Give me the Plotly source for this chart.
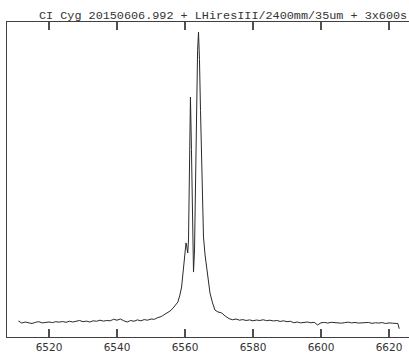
import plotly.graph_objects as go

# Left continuum (wavelength in Angstrom, relative flux)
wl_left = [6511, 6512, 6513, 6514, 6515, 6516, 6517, 6518, 6519, 6520,
           6521, 6522, 6523, 6524, 6525, 6526, 6527, 6528, 6529, 6530,
           6531, 6532, 6533, 6534, 6535, 6536, 6537, 6538, 6539, 6540,
           6541, 6542, 6543, 6544, 6545, 6546, 6547, 6548, 6549, 6550,
           6551, 6552]
fx_left = [1.07, 0.93, 1.0, 0.95, 0.9, 0.98, 1.02, 0.94, 0.97, 1.0,
           0.96, 1.02, 0.99, 1.03, 0.98, 1.05, 1.0, 1.04, 1.1, 1.02,
           1.06, 1.0, 1.08, 1.05, 1.12, 1.06, 1.1, 1.08, 1.18, 1.12,
           1.2, 1.08, 1.0, 1.1, 1.05, 1.14, 1.08, 1.16, 1.12, 1.2,
           1.18, 1.3]

# H-alpha emission profile
wl_line = [6552.65, 6553.4, 6554.1, 6554.8, 6555.6, 6556.5, 6557.35, 6557.9,
           6558.5, 6559.0, 6559.5, 6560.0, 6560.3, 6560.5, 6560.8, 6561.03,
           6561.3, 6561.6, 6561.9, 6562.2, 6562.5, 6562.8, 6563.1, 6563.4,
           6563.7, 6563.97, 6564.26, 6564.56, 6564.85, 6565.15, 6565.44,
           6565.9, 6566.4, 6566.9, 6567.35, 6568.1, 6568.8, 6569.7, 6570.8,
           6571.8, 6572.6]
fx_line = [1.33, 1.42, 1.53, 1.6, 1.73, 1.93, 2.13, 2.33,
           2.8, 3.33, 4.47, 5.6, 6.27, 6.07, 5.6, 6.47,
           11.1, 16.0, 12.5, 7.1, 4.33, 5.8, 10.5, 15.8,
           19.1, 20.33, 18.5, 15.1, 11.8, 8.47, 6.67,
           5.47, 4.47, 3.6, 2.93, 2.27, 1.8, 1.67, 1.6,
           1.4, 1.27]

# Right continuum
wl_right = [6573, 6574, 6575, 6576, 6577, 6578, 6579, 6580, 6581, 6582,
            6583, 6584, 6585, 6586, 6587, 6588, 6589, 6590, 6591, 6592,
            6593, 6594, 6595, 6596, 6597, 6598, 6599, 6600, 6601, 6602,
            6603, 6604, 6605, 6606, 6607, 6608, 6609, 6610, 6611, 6612,
            6613, 6614, 6615, 6616, 6617, 6618, 6619, 6620, 6621, 6622,
            6622.6, 6623.0]
fx_right = [1.22, 1.15, 1.2, 1.12, 1.16, 1.1, 1.14, 1.08, 1.13, 1.1,
            1.15, 1.09, 1.12, 1.07, 1.1, 1.04, 1.08, 1.02, 1.05, 0.95,
            1.0, 0.94, 0.98, 1.0, 0.95, 0.98, 0.8, 0.95, 0.97, 0.93,
            0.98, 0.95, 0.97, 0.92, 0.96, 0.99, 0.94, 0.97, 0.93, 0.96,
            0.94, 0.97, 0.91, 0.95, 0.93, 0.96, 0.9, 0.94, 0.92, 0.88,
            0.9, 0.55]

tick_vals = [6520, 6540, 6560, 6580, 6600, 6620]
tick_text = ["6520", "6540", "6560", "6580", "6600", "6620"]
title_text = "CI Cyg 20150606.992 + LHiresIII/2400mm/35um + 3x600s"

wl = wl_left + wl_line + wl_right
fx = fx_left + fx_line + fx_right

fig = go.Figure()
fig.add_trace(go.Scatter(x=wl, y=fx, mode="lines",
                         line=dict(color="#2a2a2a", width=1),
                         hoverinfo="skip"))

fig.update_layout(
    template="none",
    width=409, height=356,
    margin=dict(l=7, r=0, t=22, b=19),
    paper_bgcolor="white", plot_bgcolor="white",
    showlegend=False,
    xaxis=dict(range=[6507.65, 6625.88], showgrid=False, zeroline=False,
               showline=True, linecolor="#404040", linewidth=1, mirror="allticks",
               tickmode="array", tickvals=tick_vals, ticktext=tick_text,
               ticks="inside", ticklen=8, tickcolor="#505050", tickwidth=2,
               tickfont=dict(family="DejaVu Sans", size=10.5, color="#333333")),
    yaxis=dict(range=[0, 21], showgrid=False, zeroline=False,
               showline=True, linecolor="#404040", linewidth=1,
               showticklabels=False, ticks=""),
    annotations=[dict(text=title_text, xref="paper", yref="paper",
                      x=1.0, y=1 + 6.5 / 315, xanchor="right", yanchor="middle",
                      showarrow=False,
                      font=dict(family="Liberation Mono", size=11.8, color="#333333"))],
)

fig.write_html("out.html", config={"displayModeBar": False},
               post_script="document.body.style.margin='0';document.body.style.padding='0';")
